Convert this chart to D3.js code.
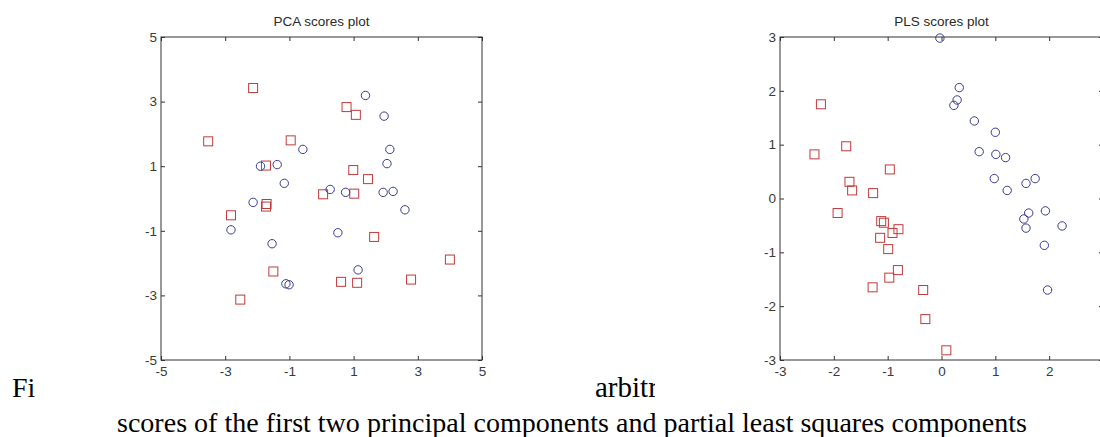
<!DOCTYPE html>
<html>
<head>
<meta charset="utf-8">
<script src="https://cdn.jsdelivr.net/npm/d3@7"></script>
<style>
  body { margin: 0; background: #fff; }
  svg { display: block; }
</style>
</head>
<body>
<svg width="1100" height="437"></svg>
<script>
// PCA scores, group 1 (squares) and group 2 (circles)
var pcaSquares = [
    [-2.13, 3.42], [0.78, 2.83], [1.07, 2.59], [-3.53, 1.77], [-0.96, 1.80],
    [-1.73, 1.02], [0.99, 0.88], [1.45, 0.60], [0.05, 0.13], [1.02, 0.15],
    [-1.71, -0.17], [-1.73, -0.25], [-2.82, -0.52], [1.64, -1.19], [4.00, -1.89],
    [-1.50, -2.26], [0.61, -2.58], [1.11, -2.61], [2.79, -2.51], [-2.53, -3.13]
];
var pcaCircles = [
    [1.37, 3.19], [1.95, 2.55], [2.13, 1.52], [2.04, 1.08], [-0.58, 1.52],
    [-1.90, 1.00], [-1.38, 1.05], [-1.16, 0.47], [0.27, 0.28], [0.75, 0.19],
    [1.92, 0.19], [2.23, 0.22], [-2.13, -0.12], [-2.82, -0.97], [-1.54, -1.40],
    [0.51, -1.06], [2.60, -0.35], [1.14, -2.21], [-1.11, -2.64], [-1.01, -2.67]
];
// PLS scores
var plsSquares = [
    [-2.24, 1.75], [-2.36, 0.82], [-1.77, 0.97], [-0.96, 0.54], [-1.71, 0.31],
    [-1.66, 0.15], [-1.27, 0.10], [-1.93, -0.27], [-1.12, -0.42], [-1.07, -0.45],
    [-0.80, -0.57], [-0.91, -0.64], [-1.14, -0.73], [-0.99, -0.94], [-0.81, -1.33],
    [-0.97, -1.47], [-1.28, -1.65], [-0.34, -1.70], [-0.30, -2.24], [0.09, -2.82]
];
var plsCircles = [
    [-0.03, 2.98], [0.33, 2.06], [0.29, 1.83], [0.23, 1.73], [0.61, 1.44],
    [1.00, 1.23], [0.70, 0.87], [1.01, 0.82], [1.19, 0.76], [0.98, 0.37],
    [1.22, 0.15], [1.57, 0.28], [1.74, 0.37], [1.62, -0.27], [1.53, -0.38],
    [1.57, -0.55], [1.93, -0.23], [2.24, -0.51], [1.91, -0.87], [1.97, -1.70]
];
var pcaTicks = [-5, -3, -1, 1, 3, 5];
var plsTicks = [-3, -2, -1, 0, 1, 2, 3];

var svg = d3.select("svg");
var serif = "Liberation Serif, Times New Roman, serif";
var sans = "Liberation Sans, Arial, sans-serif";

// caption lines sit under the two chart images
svg.append("text")
    .attr("x", 12).attr("y", 397)
    .style("font-family", serif)
    .style("font-size", "28px")
    .text("Fi");
svg.append("text")
    .attr("x", 595).attr("y", 397)
    .style("font-family", serif)
    .style("font-size", "29px")
    .text("arbitrary");
svg.append("text")
    .attr("x", 117).attr("y", 432)
    .attr("textLength", 910)
    .attr("lengthAdjust", "spacingAndGlyphs")
    .style("font-family", serif)
    .style("font-size", "28px")
    .text("scores of the first two principal components and partial least squares components");

function styleAxis(a) {
    a.select(".domain").remove();
    a.selectAll("line").attr("stroke", "#333");
    a.selectAll("text")
        .style("font-family", sans)
        .style("font-size", "13.5px")
        .attr("fill", "#3a3a3a");
}

function drawPlot(opts) {
    var x = d3.scaleLinear().domain(opts.domain).range([opts.left, opts.right]);
    var y = d3.scaleLinear().domain(opts.domain).range([opts.bottom, opts.top]);
    var fmt = function(d) { return String(d); };

    var g = svg.append("g");

    // white background of the image, covers the caption underneath
    g.append("rect")
        .attr("x", opts.imgX).attr("y", 0)
        .attr("width", opts.imgW).attr("height", 404)
        .attr("fill", "#fff");

    g.append("text")
        .attr("x", (opts.left + opts.right) / 2)
        .attr("y", 26)
        .attr("text-anchor", "middle")
        .style("font-family", sans)
        .style("font-size", "13.5px")
        .style("fill", "#2a2a2a")
        .text(opts.title);

    g.append("g")
        .attr("transform", "translate(0," + opts.bottom + ")")
        .call(d3.axisBottom(x).tickValues(opts.ticks).tickFormat(fmt).tickSize(-4).tickSizeOuter(0).tickPadding(6))
        .call(styleAxis);
    g.append("g")
        .attr("transform", "translate(0," + opts.top + ")")
        .call(d3.axisTop(x).tickValues(opts.ticks).tickSize(-4).tickSizeOuter(0).tickFormat(""))
        .call(styleAxis);
    g.append("g")
        .attr("transform", "translate(" + opts.left + ",0)")
        .call(d3.axisLeft(y).tickValues(opts.ticks).tickFormat(fmt).tickSize(-4).tickSizeOuter(0).tickPadding(4))
        .call(styleAxis);
    g.append("g")
        .attr("transform", "translate(" + opts.right + ",0)")
        .call(d3.axisRight(y).tickValues(opts.ticks).tickSize(-4).tickSizeOuter(0).tickFormat(""))
        .call(styleAxis);

    g.append("rect")
        .attr("x", opts.left).attr("y", opts.top)
        .attr("width", opts.right - opts.left)
        .attr("height", opts.bottom - opts.top)
        .attr("fill", "none")
        .attr("stroke", "#333");

    g.selectAll(".sq").data(opts.squares).enter().append("rect")
        .attr("class", "sq")
        .attr("x", function(d) { return x(d[0]) - 4.5; })
        .attr("y", function(d) { return y(d[1]) - 4.5; })
        .attr("width", 9).attr("height", 9)
        .attr("fill", "none")
        .attr("stroke", "#c03a3a");

    g.selectAll(".dot").data(opts.circles).enter().append("circle")
        .attr("class", "dot")
        .attr("cx", function(d) { return x(d[0]); })
        .attr("cy", function(d) { return y(d[1]); })
        .attr("r", 4.2)
        .attr("fill", "none")
        .attr("stroke", "#3a3a92");
}

drawPlot({
    title: "PCA scores plot", domain: [-5, 5], ticks: pcaTicks,
    left: 161, right: 482, top: 37, bottom: 360,
    imgX: 36, imgW: 520,
    squares: pcaSquares, circles: pcaCircles
});

drawPlot({
    title: "PLS scores plot", domain: [-3, 3], ticks: plsTicks,
    left: 780, right: 1103, top: 37, bottom: 360,
    imgX: 655, imgW: 450,
    squares: plsSquares, circles: plsCircles
});
</script>
</body>
</html>
